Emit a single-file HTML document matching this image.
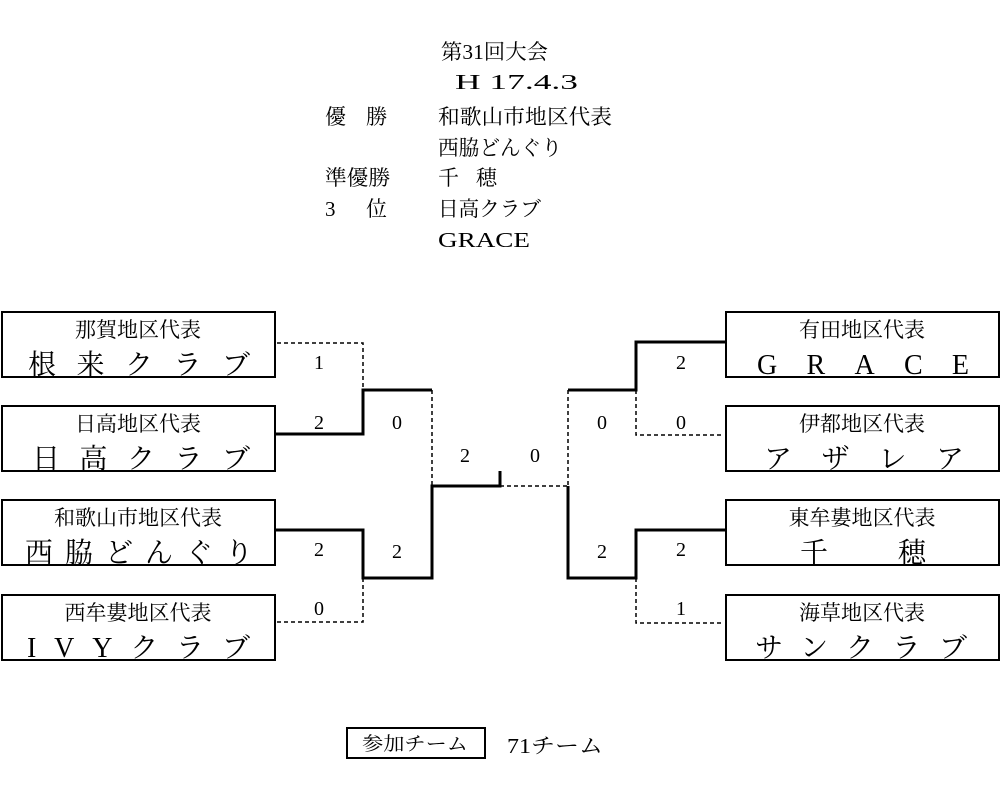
<!DOCTYPE html>
<html><head><meta charset="utf-8"><style>
html,body{margin:0;padding:0;background:#fff;}
svg{display:block;}
text{font-family:"Liberation Serif","Noto Serif CJK JP","Noto Serif CJK SC",serif;fill:#000;}
</style></head><body>
<svg width="1000" height="787" viewBox="0 0 1000 787" xmlns="http://www.w3.org/2000/svg">
<g font-size="21">
<text x="441" y="59" textLength="107" lengthAdjust="spacingAndGlyphs">第31回大会</text>
<text x="455" y="89" textLength="123" lengthAdjust="spacingAndGlyphs">H 17.4.3</text>
<text x="325" y="124">優</text><text x="366" y="124">勝</text>
<text x="438" y="124" textLength="174" lengthAdjust="spacingAndGlyphs">和歌山市地区代表</text>
<text x="438" y="155" textLength="124" lengthAdjust="spacingAndGlyphs">西脇どんぐり</text>
<text x="325" y="185" textLength="65" lengthAdjust="spacingAndGlyphs">準優勝</text>
<text x="438" y="185">千</text><text x="476" y="185">穂</text>
<text x="325" y="216">3</text><text x="366" y="216">位</text>
<text x="438" y="216" textLength="103" lengthAdjust="spacingAndGlyphs">日高クラブ</text>
<text x="438" y="247" textLength="92" lengthAdjust="spacingAndGlyphs">GRACE</text>
</g>
<g fill="none" stroke="#000" stroke-width="2">
<rect x="2" y="312" width="273" height="65"/>
<rect x="2" y="406" width="273" height="65"/>
<rect x="2" y="500" width="273" height="65"/>
<rect x="2" y="595" width="273" height="65"/>
<rect x="726" y="312" width="273" height="65"/>
<rect x="726" y="406" width="273" height="65"/>
<rect x="726" y="500" width="273" height="65"/>
<rect x="726" y="595" width="273" height="65"/>
<rect x="347" y="728" width="138" height="30"/>
</g>
<g fill="none" stroke="#000" stroke-width="3">
<polyline points="276,434 363,434 363,390 432,390"/>
<polyline points="276,530 363,530 363,578 432,578 432,486 500,486 500,471"/>
<polyline points="725,342 636,342 636,390 568,390"/>
<polyline points="725,530 636,530 636,578 568,578 568,486"/>
</g>
<g fill="none" stroke="#000" stroke-width="1.5" stroke-dasharray="4,3">
<polyline points="277,343 363,343 363,390"/>
<polyline points="277,622 363,622 363,578"/>
<line x1="432" y1="390" x2="432" y2="486"/>
<line x1="500" y1="486" x2="568" y2="486"/>
<line x1="568" y1="390" x2="568" y2="486"/>
<polyline points="636,390 636,435 724,435"/>
<polyline points="636,578 636,623 724,623"/>
</g>
<g font-size="20" text-anchor="middle">
<text x="319" y="369">1</text>
<text x="319" y="429">2</text>
<text x="397" y="429">0</text>
<text x="465" y="462">2</text>
<text x="535" y="462">0</text>
<text x="319" y="556">2</text>
<text x="397" y="558">2</text>
<text x="319" y="615">0</text>
<text x="681" y="369">2</text>
<text x="602" y="429">0</text>
<text x="681" y="429">0</text>
<text x="602" y="558">2</text>
<text x="681" y="556">2</text>
<text x="681" y="615">1</text>
</g>
<g font-size="21" text-anchor="middle">
<text x="138" y="337">那賀地区代表</text>
<text x="138" y="431">日高地区代表</text>
<text x="138" y="525">和歌山市地区代表</text>
<text x="138" y="620">西牟婁地区代表</text>
<text x="862" y="337">有田地区代表</text>
<text x="862" y="431">伊都地区代表</text>
<text x="862" y="525">東牟婁地区代表</text>
<text x="862" y="620">海草地区代表</text>
</g>
<g font-size="28">
<text x="28" y="374" textLength="222" lengthAdjust="spacing">根来クラブ</text>
<text x="32" y="468" textLength="218" lengthAdjust="spacing">日高クラブ</text>
<text x="25" y="562" textLength="228" lengthAdjust="spacing">西脇どんぐり</text>
<text x="27" y="657" textLength="223" lengthAdjust="spacing">IVYクラブ</text>
<text x="757" y="374" textLength="212" lengthAdjust="spacing">GRACE</text>
<text x="764" y="468" textLength="200" lengthAdjust="spacing">アザレア</text>
<text x="800" y="562" textLength="126" lengthAdjust="spacing">千穂</text>
<text x="755" y="657" textLength="212" lengthAdjust="spacing">サンクラブ</text>
</g>
<text x="362" y="750" font-size="19" textLength="106" lengthAdjust="spacingAndGlyphs">参加チーム</text>
<text x="507" y="753" font-size="21" textLength="96" lengthAdjust="spacingAndGlyphs">71チーム</text>
</svg>
</body></html>
